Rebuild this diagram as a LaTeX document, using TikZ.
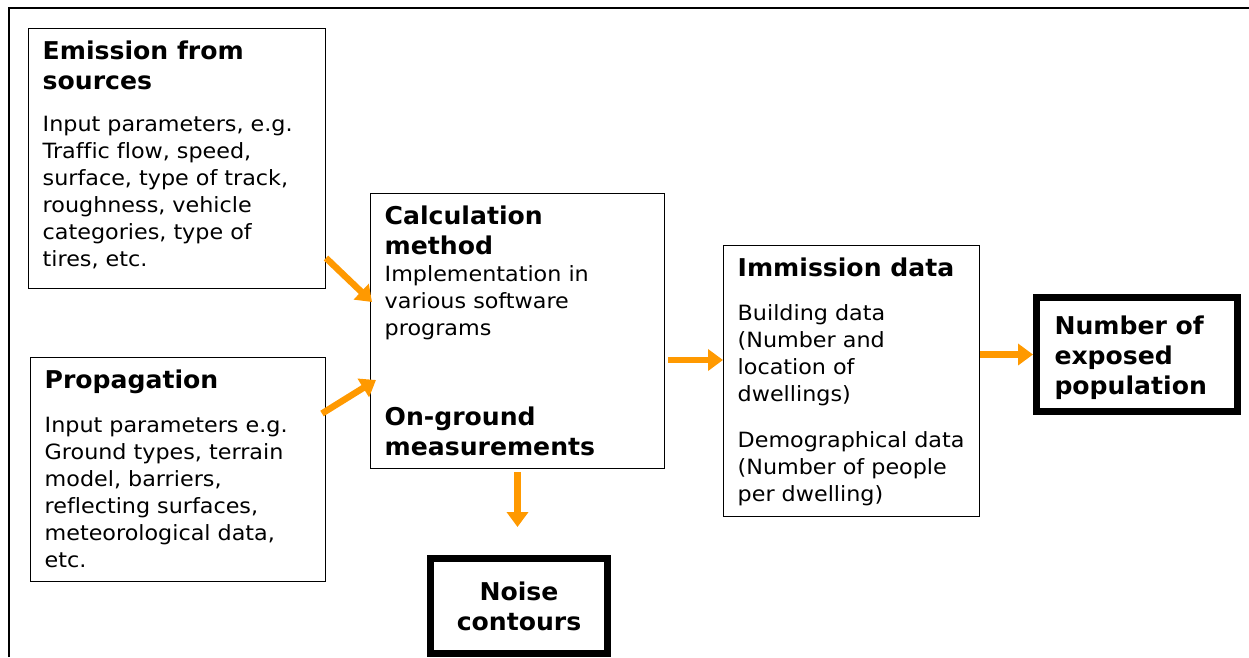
\documentclass[tikz,border=0pt]{standalone}
\usepackage{fontspec}
\setmainfont{DejaVu Sans}[Ligatures=NoCommon,
	UprightFeatures={FakeStretch=1.06},
	BoldFeatures={FakeStretch=1.025}]
\usetikzlibrary{arrows.meta}

\definecolor{floworange}{RGB}{255,153,0}
\newcommand{\titlefont}{\bfseries\fontsize{24.5}{30}\selectfont}
\newcommand{\bodyfont}{\fontsize{21}{27}\selectfont}
\newcommand{\boxtext}[3]{\parbox[c][#2][t]{#1}{\raggedright\bodyfont #3}}

\begin{document}
\begin{tikzpicture}[x=1pt,y=-1pt,
	box/.style={draw=black,line width=1.4pt,anchor=north west,inner xsep=14pt,inner ysep=12pt},
	thickbox/.style={draw=black,line width=7pt,anchor=north west,inner xsep=16pt,inner ysep=8pt},
	flow/.style={draw=floworange,line width=6.5pt,-{Triangle[length=15pt,width=21pt]}}]
	
	\useasboundingbox (0,0) rectangle (1249,657);
	\draw[line width=1.5pt] (9,657) -- (9,8) -- (1249,8);
	
	\node[box] (emis) at (28,28) {\boxtext{268.6pt}{235.6pt}{%
		{\titlefont Emission from\\sources\par}\vspace{15pt}
		Input parameters, e.g.\\Traffic flow, speed,\\surface, type of track,\\roughness, vehicle\\categories, type of\\tires, etc.}};
	\node[box] (prop) at (30,357) {\boxtext{266.6pt}{199.6pt}{%
		{\titlefont Propagation\par}\vspace{17pt}
		Input parameters e.g.\\Ground types, terrain\\model, barriers,\\reflecting surfaces,\\meteorological data,\\etc.}};
	\node[box] (calc) at (370,193) {\boxtext{265.6pt}{250.6pt}{%
		{\titlefont Calculation\\method\par}
		Implementation in\\various software\\programs\par\vspace{60pt}
		{\titlefont On-ground\\measurements\par}}};
	\node[box] (imm) at (723,245) {\boxtext{227.6pt}{246.6pt}{%
		{\titlefont Immission data\par}\vspace{17pt}
		Building data\\(Number and\\location of\\dwellings)\par\vspace{19pt}
		Demographical data\\(Number of people\\per dwelling)}};
	\node[thickbox,inner xsep=18pt,inner ysep=18pt] (pop) at (1033,294) {\parbox[c][78pt][t]{165pt}{\raggedright\titlefont
		Number of\\exposed\\population}};
	\node[thickbox,minimum width=177pt,minimum height=95pt,align=center,font=\titlefont]
		(noise) at (427,555) {Noise\\contours};
	
	\path[flow] ([yshift=31pt]emis.south east) -- ([xshift=2pt,yshift=29pt]calc.west);
	\path[flow] ([xshift=-4pt,yshift=56pt]prop.east) -- ([xshift=6pt,yshift=-49pt]calc.west);
	\path[flow] ([xshift=3pt,yshift=-29pt]calc.east) -- ([yshift=-29pt]calc.east -| imm.west);
	\path[flow] ([yshift=-3pt]calc.south) -- ([yshift=28pt]calc.south |- noise.north);
	\path[flow] (imm.east |- pop.west) -- (pop.west);
	
\end{tikzpicture}
\end{document}
